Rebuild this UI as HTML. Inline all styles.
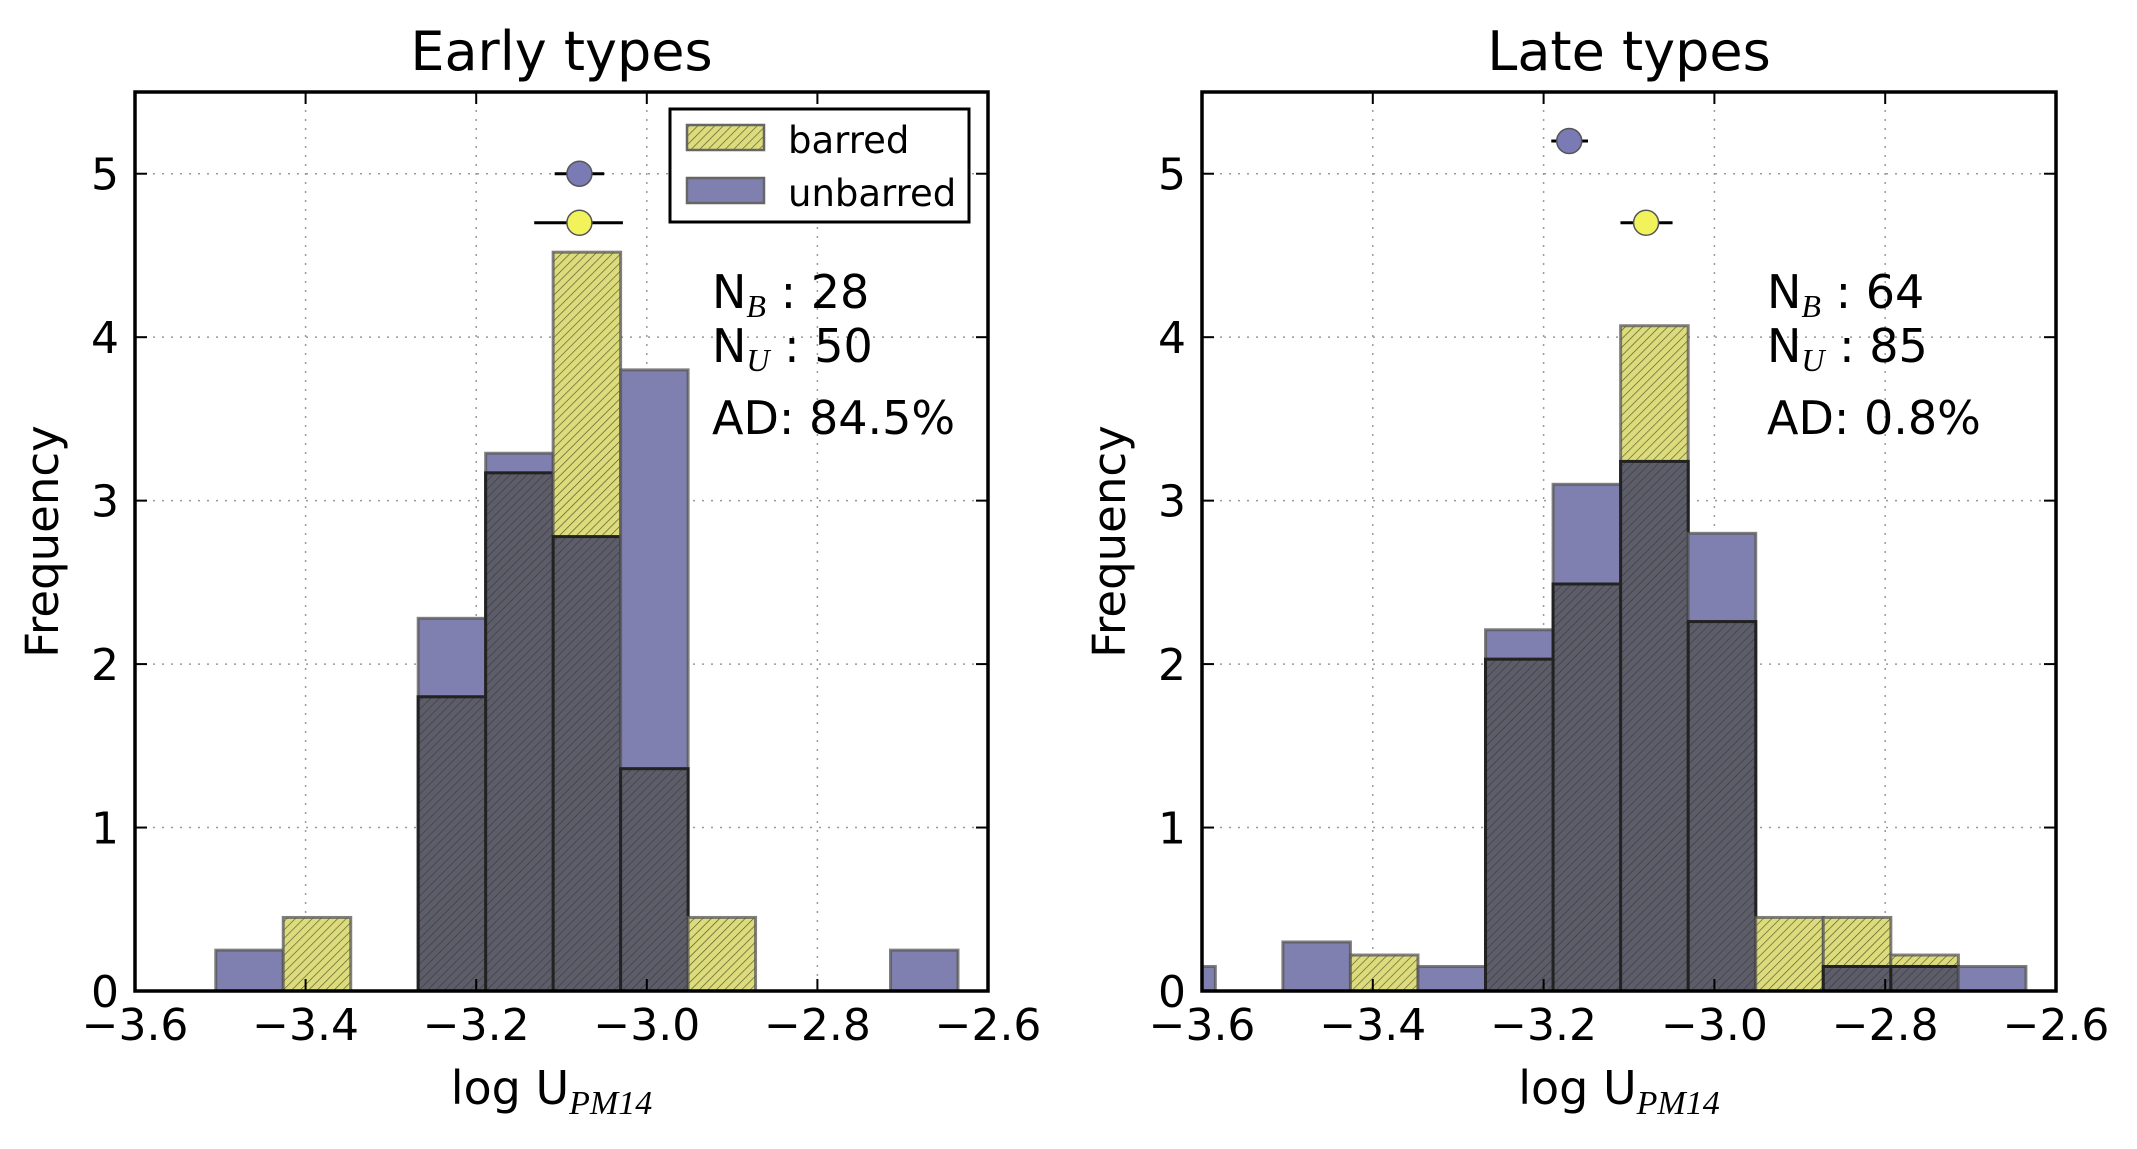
<!DOCTYPE html>
<html><head><meta charset="utf-8"><style>
html,body{margin:0;padding:0;background:#fff}
svg{display:block}
text{font-family:"DejaVu Sans","Liberation Sans",sans-serif;fill:#000}
</style></head><body>
<svg id="chart" width="2137" height="1149" xmlns="http://www.w3.org/2000/svg">
<defs>
<pattern id="hatchY" width="6" height="6" patternUnits="userSpaceOnUse" patternTransform="rotate(45)">
<rect width="6" height="6" fill="#dcdc7c"/><line x1="0" y1="0" x2="0" y2="6" stroke="#55552a" stroke-width="1.3"/></pattern>
<pattern id="hatchO" width="6" height="6" patternUnits="userSpaceOnUse" patternTransform="rotate(45)">
<rect width="6" height="6" fill="#5c5d68"/><line x1="0" y1="0" x2="0" y2="6" stroke="#3a3a42" stroke-width="1.3"/></pattern>
</defs>
</svg>
<script>
const binEdges0 = [-3.6635,-3.5844,-3.5053,-3.4262,-3.3471,-3.268,-3.1889,-3.1098,-3.0307,-2.9516,-2.8725,-2.7934,-2.7143,-2.6352];
const earlyUnbarred = [0,0,0.25,0,0,2.28,3.29,2.78,3.80,0,0,0,0.25];
const earlyBarred   = [0,0,0,0.45,0,1.80,3.17,4.52,1.36,0.45,0,0,0];
const lateUnbarred  = [0.15,0,0.30,0,0.15,2.21,3.10,3.24,2.80,0,0.15,0.15,0.15];
const lateBarred    = [0,0,0,0.22,0,2.03,2.49,4.07,2.26,0.45,0.45,0.22,0];
const xTicks = [-3.6,-3.4,-3.2,-3.0,-2.8,-2.6];
const xTickLabels = ["\u22123.6","\u22123.4","\u22123.2","\u22123.0","\u22122.8","\u22122.6"];
const yTicks = [0,1,2,3,4,5];
const earlyMeans = [{x:-3.079,lo:-3.108,hi:-3.050,y:5.0,c:"#7a7ab4"},{x:-3.079,lo:-3.132,hi:-3.028,y:4.7,c:"#f2f25a"}];
const lateMeans  = [{x:-3.170,lo:-3.191,hi:-3.148,y:5.2,c:"#7a7ab4"},{x:-3.080,lo:-3.110,hi:-3.049,y:4.7,c:"#f2f25a"}];
const earlyStats = ["28","50","84.5%"];
const lateStats = ["64","85","0.8%"];

const svg = document.getElementById('chart');
const NS = "http://www.w3.org/2000/svg";
function mk(tag, attrs, parent){const e=document.createElementNS(NS,tag);for(const k in attrs)e.setAttribute(k,attrs[k]);(parent||svg).appendChild(e);return e;}

function panel(L, R, title, unb, bar, means, stats, showLegend, pname, tx0){
  const T=92, B=991;
  const g = mk('g',{});
  
  
  const sx = v => L + (v+3.6)/1.0*(R-L);
  const sy = v => B - v/5.5*(B-T);
  const clip = mk('clipPath',{id:'clip'+pname},g);
  mk('rect',{x:L,y:T,width:R-L,height:B-T},clip);
  xTicks.forEach(t=>{ if(t>-3.6&&t<-2.6){const l=mk('line',{x1:sx(t),x2:sx(t),y1:T,y2:B,stroke:'#999','stroke-width':1.5,'stroke-dasharray':'2 7'},g);
    }});
  yTicks.forEach(t=>{ if(t>0){const l=mk('line',{x1:L,x2:R,y1:sy(t),y2:sy(t),stroke:'#999','stroke-width':1.5,'stroke-dasharray':'2 7'},g);
    }});
  const bg = mk('g',{'clip-path':'url(#clip'+pname+')'},g);
  for(let i=0;i<unb.length;i++){
    const x0=sx(binEdges0[i]), x1=sx(binEdges0[i+1]);
    const u=unb[i], b=bar[i], lo=Math.min(u,b), hi=Math.max(u,b);
    if(hi<=0) continue;
    if(u>0){const r=mk('rect',{x:x0,y:sy(u),width:x1-x0,height:sy(0)-sy(u),fill:u>b?'#8080b0':'none',stroke:'#555','stroke-width':3,'stroke-opacity':0.75},bg);
      }
    if(b>0){const r=mk('rect',{x:x0,y:sy(b),width:x1-x0,height:sy(0)-sy(b),fill:b>u?'url(#hatchY)':'none',stroke:'#555','stroke-width':3,'stroke-opacity':0.75},bg);
      }
    if(lo>0){const r=mk('rect',{x:x0,y:sy(lo),width:x1-x0,height:sy(0)-sy(lo),fill:'url(#hatchO)',stroke:'#222','stroke-width':3},bg);
      }
  }
  means.forEach(m=>{
    const l=mk('line',{x1:sx(m.lo),x2:sx(m.hi),y1:sy(m.y),y2:sy(m.y),stroke:'#000','stroke-width':3},g);
    
    const c=mk('circle',{cx:sx(m.x),cy:sy(m.y),r:12.5,fill:m.c,stroke:'#555','stroke-width':1.5},g);
    
  });
  const f=mk('rect',{x:L,y:T,width:R-L,height:B-T,fill:'none',stroke:'#000','stroke-width':3.5},g);
  
  xTicks.forEach((t,i)=>{
    mk('line',{x1:sx(t),x2:sx(t),y1:B,y2:B-12,stroke:'#000','stroke-width':2},g);
    mk('line',{x1:sx(t),x2:sx(t),y1:T,y2:T+12,stroke:'#000','stroke-width':2},g);
    const tx=mk('text',{x:sx(t),y:1040,'text-anchor':'middle','font-size':44},g);
    tx.textContent=xTickLabels[i];
    
  });
  yTicks.forEach(t=>{
    mk('line',{x1:L,x2:L+12,y1:sy(t),y2:sy(t),stroke:'#000','stroke-width':2},g);
    mk('line',{x1:R,x2:R-12,y1:sy(t),y2:sy(t),stroke:'#000','stroke-width':2},g);
    const tx=mk('text',{x:L-16,y:sy(t)+16,'text-anchor':'end','font-size':44},g);
    tx.textContent=String(t);
    
  });
  const tt=mk('text',{x:(L+R)/2,y:70,'text-anchor':'middle','font-size':54},g);
  tt.textContent=title;
  const yl=mk('text',{x:0,y:0,'text-anchor':'middle','font-size':45,transform:`translate(${L-77},${(T+B)/2}) rotate(-90)`},g);
  yl.textContent='Frequency';
  const xl=mk('text',{x:(L+R)/2-10,y:1104,'text-anchor':'middle','font-size':46},g);
  
  xl.innerHTML='log U<tspan font-family="Liberation Serif, serif" font-style="italic" font-size="34" dy="10">PM14</tspan>';
  const s1=mk('text',{x:tx0,y:308,'font-size':46},g);
  s1.innerHTML='N<tspan font-family="Liberation Serif, serif" font-style="italic" font-size="32" dy="9">B</tspan><tspan dy="-9"> : '+stats[0]+'</tspan>';
  
  const s2=mk('text',{x:tx0,y:362,'font-size':46},g);
  s2.innerHTML='N<tspan font-family="Liberation Serif, serif" font-style="italic" font-size="32" dy="9">U</tspan><tspan dy="-9"> : '+stats[1]+'</tspan>';
  
  const s3=mk('text',{x:tx0,y:434,'font-size':46},g);
  s3.textContent='AD: '+stats[2];
  
  if(showLegend){
    const lg=mk('g',{},g);
    
    mk('rect',{x:670,y:109,width:299,height:113,fill:'#fff',stroke:'#000','stroke-width':3},lg);
    const e1=mk('rect',{x:687,y:125,width:77,height:25,fill:'url(#hatchY)',stroke:'#666','stroke-width':2.5},lg);
    
    const e2=mk('rect',{x:687,y:178,width:77,height:25,fill:'#8080b0',stroke:'#666','stroke-width':2.5},lg);
    
    const t1=mk('text',{x:788,y:153,'font-size':37},lg);t1.textContent='barred';
    
    const t2=mk('text',{x:788,y:206,'font-size':37},lg);t2.textContent='unbarred';
    
  }
}
panel(135,988,'Early types',earlyUnbarred,earlyBarred,earlyMeans,earlyStats,true,'early-types-panel',712);
panel(1202,2056,'Late types',lateUnbarred,lateBarred,lateMeans,lateStats,false,'late-types-panel',1767);
</script>
</body></html>
